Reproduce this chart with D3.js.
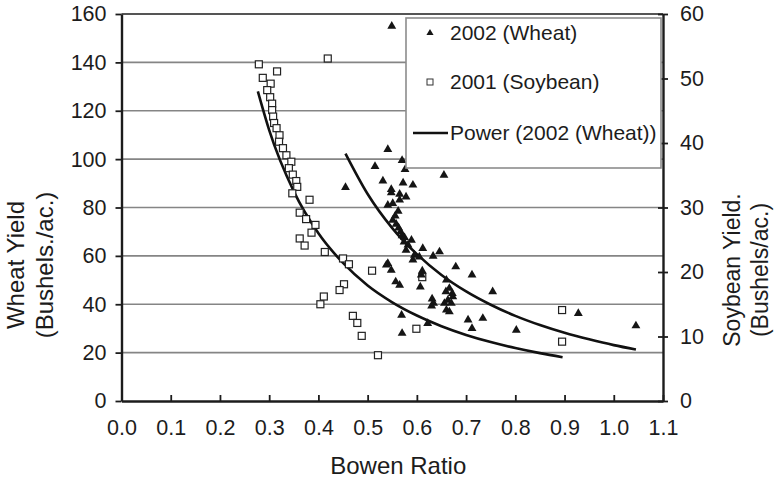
<!DOCTYPE html>
<html>
<head>
<meta charset="utf-8">
<script src="https://cdn.jsdelivr.net/npm/d3@7"></script>
<style>
  body { margin: 0; background: #fff; }
  svg { display: block; font-family: "Liberation Sans", Arial, sans-serif; }
</style>
</head>
<body>
<svg id="chart" width="777" height="478"></svg>
<script>
// 2002 wheat: [Bowen ratio, yield in bushels/ac]
const wheat2002 = [
  [0.549, 155], [0.541, 104], [0.515, 97], [0.570, 99.5], [0.576, 95.7],
  [0.531, 91], [0.572, 90.2], [0.592, 89.3], [0.455, 88.3], [0.548, 87.5],
  [0.548, 86.1], [0.565, 85.5], [0.578, 84.4], [0.565, 83.1], [0.541, 81],
  [0.551, 81.7], [0.562, 78.5], [0.556, 76.5], [0.551, 74.8], [0.558, 73.1],
  [0.563, 71.6], [0.567, 70], [0.570, 68.3], [0.575, 67.6], [0.589, 66.5],
  [0.574, 65.8], [0.582, 64.5], [0.578, 62.4], [0.612, 63.1], [0.646, 61.7],
  [0.633, 59.9], [0.605, 59.6], [0.595, 60.3], [0.592, 58.3], [0.541, 56.9],
  [0.538, 56.2], [0.548, 54.1], [0.611, 53.8], [0.609, 52.1], [0.557, 49.3],
  [0.565, 47.9], [0.607, 47.2], [0.660, 50.0], [0.679, 55.5], [0.666, 46.6],
  [0.659, 45.2], [0.673, 43.1], [0.663, 41.7], [0.656, 40.4], [0.631, 42.2],
  [0.634, 40.4], [0.630, 39.3], [0.660, 37.6], [0.666, 36.9], [0.569, 35.5],
  [0.570, 28], [0.622, 32.1], [0.655, 93.4], [0.712, 52.1], [0.754, 45.2],
  [0.672, 44.5], [0.670, 40.4], [0.704, 33.5], [0.712, 30.0], [0.734, 34.2],
  [0.802, 29.3], [0.928, 36.2], [1.045, 31.1]
];

// 2001 soybean: [Bowen ratio, yield in bushels/ac] (right axis)
const soybean2001 = [
  [0.279, 52.2], [0.419, 53.1], [0.316, 51.1], [0.287, 50.1], [0.303, 49.2],
  [0.296, 48.2], [0.302, 47.1], [0.306, 46.1], [0.306, 45.1], [0.308, 44.1],
  [0.310, 43.1], [0.315, 42.3], [0.321, 41.2], [0.320, 40.2], [0.328, 39.2],
  [0.335, 38.1], [0.345, 37.1], [0.340, 36.1], [0.348, 35.1], [0.355, 34.1],
  [0.357, 33.2], [0.347, 32.2], [0.382, 31.2], [0.362, 29.2], [0.375, 28.2],
  [0.394, 27.3], [0.386, 26.1], [0.362, 25.2], [0.372, 24.1], [0.413, 23.1],
  [0.450, 22.1], [0.462, 21.2], [0.509, 20.2], [0.611, 19.2], [0.452, 18.1],
  [0.443, 17.2], [0.411, 16.2], [0.404, 15.0], [0.470, 13.2], [0.479, 12.1],
  [0.599, 11.2], [0.488, 10.1], [0.521, 7.1], [0.895, 14.1], [0.895, 9.2]
];

// trend lines
const wheatFit = [
  [0.455, 102.3], [0.5, 85.6], [0.55, 71.5], [0.6, 60.7], [0.65, 52.1],
  [0.7, 45.3], [0.75, 39.8], [0.8, 35.2], [0.85, 31.4], [0.9, 28.2],
  [0.95, 25.5], [1.0, 23.1], [1.045, 21.3]
];
const soybeanFit = [
  [0.277, 48.0], [0.3, 42.0], [0.35, 32.5], [0.4, 26.0], [0.45, 21.4],
  [0.5, 17.9], [0.55, 15.3], [0.6, 13.25], [0.65, 11.6], [0.7, 10.25],
  [0.75, 9.14], [0.8, 8.21], [0.85, 7.42], [0.896, 6.79]
];

const xTicks = [0, 0.1, 0.2, 0.3, 0.4, 0.5, 0.6, 0.7, 0.8, 0.9, 1.0, 1.1];
const wheatTicks = [0, 20, 40, 60, 80, 100, 120, 140, 160];
const soyTicks = [0, 10, 20, 30, 40, 50, 60];
const legendLabels = ["2002 (Wheat)", "2001 (Soybean)", "Power (2002 (Wheat))"];

const svg = d3.select("#chart");
const plot = { left: 121.5, right: 663, top: 14, bottom: 401 };

const x = d3.scaleLinear().domain([0, 1.1]).range([plot.left, plot.right]);
const yWheat = d3.scaleLinear().domain([0, 160]).range([plot.bottom, plot.top]);
const ySoy = d3.scaleLinear().domain([0, 60]).range([plot.bottom, plot.top]);

const ink = "#1c1c1c";

// gridlines
svg.append("g")
  .selectAll("line")
  .data(wheatTicks.filter((d) => d > 0))
  .join("line")
  .attr("x1", plot.left)
  .attr("x2", plot.right)
  .attr("y1", (d) => yWheat(d))
  .attr("y2", (d) => yWheat(d))
  .attr("stroke", (d) => (d === 160 ? "#555" : "#858585"))
  .attr("stroke-width", (d) => (d === 160 ? 2.2 : 1.7));

// axes
const styleAxis = (g, size) => {
  g.select(".domain").attr("stroke", ink).attr("stroke-width", 2.4);
  g.selectAll(".tick line").attr("stroke", ink).attr("stroke-width", 1.8);
  g.selectAll(".tick text")
    .attr("fill", ink)
    .style("font-size", size + "px")
    .style("font-family", '"Liberation Sans", Arial, sans-serif');
};

svg.append("g")
  .attr("transform", `translate(${plot.left},0)`)
  .call(d3.axisLeft(yWheat).tickValues(wheatTicks).tickSizeInner(6).tickSizeOuter(0).tickPadding(9))
  .call((g) => styleAxis(g, 21.5));

const right = svg.append("g")
  .attr("transform", `translate(${plot.right},0)`)
  .call(d3.axisRight(ySoy).tickValues(soyTicks).tickSizeInner(5).tickSizeOuter(0).tickPadding(12))
  .call((g) => styleAxis(g, 21.5));
right.selectAll(".tick line").attr("x1", -5).attr("x2", 5);

svg.append("g")
  .attr("transform", `translate(0,${plot.bottom})`)
  .call(d3.axisBottom(x).tickValues(xTicks).tickFormat(d3.format(".1f")).tickSizeInner(-6).tickSizeOuter(0).tickPadding(19))
  .call((g) => styleAxis(g, 21.5));

// trend lines
const wheatLine = d3.line().x((d) => x(d[0])).y((d) => yWheat(d[1])).curve(d3.curveMonotoneX);
const soyLine = d3.line().x((d) => x(d[0])).y((d) => ySoy(d[1])).curve(d3.curveMonotoneX);

svg.append("path")
  .datum(soybeanFit)
  .attr("d", soyLine)
  .attr("fill", "none")
  .attr("stroke", "#111")
  .attr("stroke-width", 2.6);

svg.append("path")
  .datum(wheatFit)
  .attr("d", wheatLine)
  .attr("fill", "none")
  .attr("stroke", "#111")
  .attr("stroke-width", 2.6);

// soybean squares
const sq = 7;
svg.append("g")
  .selectAll("rect")
  .data(soybean2001)
  .join("rect")
  .attr("x", (d) => x(d[0]) - sq / 2)
  .attr("y", (d) => ySoy(d[1]) - sq / 2)
  .attr("width", sq)
  .attr("height", sq)
  .attr("fill", "#fff")
  .attr("stroke", "#222")
  .attr("stroke-width", 1.2);

// wheat triangles
const tri = d3.symbol(d3.symbolTriangle, 34);
svg.append("g")
  .selectAll("path")
  .data(wheat2002)
  .join("path")
  .attr("d", tri)
  .attr("transform", (d) => `translate(${x(d[0])},${yWheat(d[1])})`)
  .attr("fill", "#151515");

// legend
const legend = svg.append("g");
legend.append("rect")
  .attr("x", 406)
  .attr("y", 18)
  .attr("width", 255)
  .attr("height", 150)
  .attr("fill", "#fff")
  .attr("stroke", "#8c8c8c")
  .attr("stroke-width", 1.6);

const rowY = [33, 82, 133];
legend.append("path")
  .attr("d", d3.symbol(d3.symbolTriangle, 22))
  .attr("transform", `translate(430,${rowY[0]})`)
  .attr("fill", "#151515");
legend.append("rect")
  .attr("x", 427)
  .attr("y", rowY[1] - 3)
  .attr("width", 6)
  .attr("height", 6)
  .attr("fill", "#fff")
  .attr("stroke", "#333")
  .attr("stroke-width", 1);
legend.append("line")
  .attr("x1", 413)
  .attr("x2", 448)
  .attr("y1", rowY[2])
  .attr("y2", rowY[2])
  .attr("stroke", "#111")
  .attr("stroke-width", 2.6);

legend.selectAll("text")
  .data(legendLabels)
  .join("text")
  .attr("x", 450)
  .attr("y", (d, i) => rowY[i])
  .attr("dy", "0.35em")
  .attr("fill", ink)
  .style("font-size", "21px")
  .text((d) => d);

// axis titles
const title = (txt, cx, cy, rot, size) => {
  svg.append("text")
    .attr("transform", `translate(${cx},${cy}) rotate(${rot})`)
    .attr("text-anchor", "middle")
    .attr("dy", "0.35em")
    .attr("fill", ink)
    .style("font-size", size + "px")
    .text(txt);
};

title("Bowen Ratio", (plot.left + plot.right) / 2 + 6, 466, 0, 24);
title("Wheat Yield", 16, 265, -90, 24);
title("(Bushels./ac.)", 45, 265, -90, 24);
title("Soybean Yield.", 732, 270, -90, 23);
title("(Bushels/ac.)", 760, 270, -90, 23);
</script>
</body>
</html>
